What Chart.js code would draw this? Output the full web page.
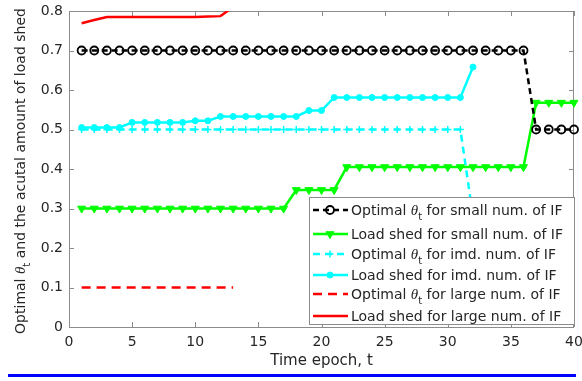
<!DOCTYPE html>
<html>
<head>
<meta charset="utf-8">
<script src="https://cdn.jsdelivr.net/npm/chart.js@4.4.0/dist/chart.umd.min.js"></script>
<style>
html, body { margin: 0; padding: 0; background: #fff; }
#wrap { position: relative; width: 582px; height: 381px; }
#blueRule { position: absolute; left: 8px; top: 374px; width: 568px; height: 3px; background: #0000ff; }
</style>
</head>
<body>
<div id="wrap">
    <canvas id="shedChart"></canvas>
    <div id="blueRule"></div>
</div>
<script>
// time epochs (x values)
const epochs = [1, 2, 3, 4, 5, 6, 7, 8, 9, 10, 11, 12, 13, 14, 15, 16, 17, 18, 19, 20,
    21, 22, 23, 24, 25, 26, 27, 28, 29, 30, 31, 32, 33, 34, 35, 36, 37, 38, 39, 40];

// small number of IF
const thetaSmall = [0.7, 0.7, 0.7, 0.7, 0.7, 0.7, 0.7, 0.7, 0.7, 0.7, 0.7, 0.7, 0.7, 0.7, 0.7, 0.7, 0.7, 0.7, 0.7, 0.7,
    0.7, 0.7, 0.7, 0.7, 0.7, 0.7, 0.7, 0.7, 0.7, 0.7, 0.7, 0.7, 0.7, 0.7, 0.7, 0.7, 0.5, 0.5, 0.5, 0.5];
const shedSmall = [0.3, 0.3, 0.3, 0.3, 0.3, 0.3, 0.3, 0.3, 0.3, 0.3, 0.3, 0.3, 0.3, 0.3, 0.3, 0.3, 0.3, 0.347, 0.347, 0.347,
    0.347, 0.405, 0.405, 0.405, 0.405, 0.405, 0.405, 0.405, 0.405, 0.405, 0.405, 0.405, 0.405, 0.405, 0.405, 0.405, 0.568, 0.568, 0.568, 0.568];

// intermediate number of IF
const thetaImd = [0.5, 0.5, 0.5, 0.5, 0.5, 0.5, 0.5, 0.5, 0.5, 0.5, 0.5, 0.5, 0.5, 0.5, 0.5, 0.5, 0.5, 0.5, 0.5, 0.5,
    0.5, 0.5, 0.5, 0.5, 0.5, 0.5, 0.5, 0.5, 0.5, 0.5, 0.5, 0.28];
const shedImd = [0.505, 0.505, 0.505, 0.505, 0.518, 0.518, 0.518, 0.518, 0.518, 0.522, 0.522, 0.533, 0.533, 0.533, 0.533, 0.533, 0.533, 0.533, 0.548, 0.548,
    0.581, 0.581, 0.581, 0.581, 0.581, 0.581, 0.581, 0.581, 0.581, 0.581, 0.581, 0.658];

// large number of IF
const thetaLarge = [0.1, 0.1, 0.1, 0.1, 0.1, 0.1, 0.1, 0.1, 0.1, 0.1, 0.1, 0.1, 0.1];
const shedLarge = [0.769, 0.777, 0.785, 0.785, 0.785, 0.785, 0.785, 0.785, 0.785, 0.785, 0.786, 0.787, 0.81];

const seriesNames = [
    "Optimal θ_t for small num. of IF",
    "Load shed for small num. of IF",
    "Optimal θ_t for imd. num. of IF",
    "Load shed for imd. num. of IF",
    "Optimal θ_t for large num. of IF",
    "Load shed for large num. of IF"
];

const xTitle = "Time epoch, t";
const yTitle = "Optimal θ_t and the acutal amount of load shed";

const FONT = '"DejaVu Sans", sans-serif';
const TEXT_COLOR = '#262626';

// split "θ_t" into italic theta + subscript t
function richParts(text) {
    const i = text.indexOf('θ_t');
    if (i < 0) return [{ s: text }];
    return [{ s: text.slice(0, i) }, { s: 'θ', it: true }, { s: 't', sub: true }, { s: text.slice(i + 3) }];
}

function partFont(p, size) {
    if (p.it) return `italic ${size + 1}px "Liberation Serif", serif`;
    if (p.sub) return `${Math.round(size * 0.72)}px ${FONT}`;
    return `${size}px ${FONT}`;
}

function richWidth(ctx, parts, size) {
    let w = 0;
    parts.forEach(p => { ctx.font = partFont(p, size); w += ctx.measureText(p.s).width; });
    return w;
}

function drawRich(ctx, parts, x, y, size) {
    parts.forEach(p => {
        ctx.font = partFont(p, size);
        ctx.fillText(p.s, x, p.sub ? y + size * 0.38 : y);
        x += ctx.measureText(p.s).width;
    });
}

function serie(vals, label, color, extra) {
    return Object.assign({
        label: label,
        data: vals.map((v, i) => ({ x: epochs[i], y: v })),
        borderColor: color,
        backgroundColor: color,
        pointBackgroundColor: color,
        pointBorderColor: color,
        borderWidth: 2.5,
        pointRadius: 0,
        tension: 0,
        clip: { left: 8, top: 0, right: 8, bottom: 8 }
    }, extra);
}

// axes box with inward ticks, like matlab
const boxPlugin = {
    id: 'axesBox',
    beforeDatasetsDraw(chart) {
        const { ctx, chartArea: a, scales: { x, y } } = chart;
        const len = 5;
        ctx.save();
        ctx.strokeStyle = '#8c8c8c';
        ctx.lineWidth = 1;
        ctx.strokeRect(a.left + 0.5, a.top + 0.5, a.right - a.left - 1, a.bottom - a.top);
        ctx.beginPath();
        x.ticks.forEach(t => {
            const px = Math.round(x.getPixelForValue(t.value)) + 0.5;
            ctx.moveTo(px, a.bottom); ctx.lineTo(px, a.bottom - len);
            ctx.moveTo(px, a.top); ctx.lineTo(px, a.top + len);
        });
        y.ticks.forEach(t => {
            const py = Math.round(y.getPixelForValue(t.value)) + 0.5;
            ctx.moveTo(a.left, py); ctx.lineTo(a.left + len, py);
            ctx.moveTo(a.right, py); ctx.lineTo(a.right - len, py);
        });
        ctx.stroke();
        ctx.restore();
    },
    afterDraw(chart) {
        const { ctx, chartArea: a } = chart;
        ctx.save();
        ctx.fillStyle = TEXT_COLOR;
        ctx.textBaseline = 'alphabetic';

        // y title, rotated
        const parts = richParts(yTitle);
        const size = 14;
        const w = richWidth(ctx, parts, size);
        ctx.translate(25, (a.top + a.bottom) / 2 + 2);
        ctx.rotate(-Math.PI / 2);
        drawRich(ctx, parts, -w / 2, 0, size);
        ctx.restore();

        // legend box inside the axes
        const box = { x: a.left + 240, y: a.top + 186, w: a.right - a.left - 239, h: 128 };
        const rows = [13, 37, 57, 78, 97, 119];
        ctx.save();
        ctx.fillStyle = '#fff';
        ctx.fillRect(box.x, box.y, box.w, box.h);
        ctx.strokeStyle = '#8c8c8c';
        ctx.lineWidth = 1;
        ctx.strokeRect(box.x + 0.5, box.y + 0.5, box.w - 1, box.h - 1);
        chart.data.datasets.forEach((ds, i) => {
            const ry = box.y + rows[i];
            ctx.save();
            ctx.strokeStyle = ds.borderColor;
            ctx.lineWidth = ds.borderWidth;
            ctx.setLineDash(ds.borderDash || []);
            ctx.beginPath();
            ctx.moveTo(box.x + 4, ry);
            ctx.lineTo(box.x + 39, ry);
            ctx.stroke();
            ctx.setLineDash([]);
            if (ds.pointRadius > 0) {
                ctx.fillStyle = ds.pointBackgroundColor;
                ctx.strokeStyle = ds.pointBorderColor;
                ctx.lineWidth = ds.pointBorderWidth;
                Chart.helpers.drawPoint(ctx, {
                    pointStyle: ds.pointStyle,
                    rotation: ds.pointRotation || 0,
                    radius: ds.pointRadius,
                    borderWidth: ds.pointBorderWidth
                }, box.x + 21, ry);
            }
            ctx.restore();
            ctx.fillStyle = TEXT_COLOR;
            drawRich(ctx, richParts(ds.label), box.x + 42, ry + 5, 14);
        });
        ctx.restore();
    }
};

const ctx = document.getElementById('shedChart').getContext('2d');
new Chart(ctx, {
    type: 'line',
    data: {
        datasets: [
            serie(thetaSmall, seriesNames[0], '#000000', {
                borderDash: [6, 4], pointStyle: 'circle', pointRadius: 4, pointBorderWidth: 1.8,
                pointBackgroundColor: 'rgba(255,255,255,0)'
            }),
            serie(shedSmall, seriesNames[1], '#00ff00', {
                pointStyle: 'triangle', pointRotation: 180, pointRadius: 4.6, pointBorderWidth: 1
            }),
            serie(thetaImd, seriesNames[2], '#00ffff', {
                borderDash: [7, 5], pointStyle: 'cross', pointRadius: 3.5, pointBorderWidth: 1.5
            }),
            serie(shedImd, seriesNames[3], '#00ffff', {
                pointStyle: 'circle', pointRadius: 3, pointBorderWidth: 1
            }),
            serie(thetaLarge, seriesNames[4], '#ff0000', { borderDash: [9, 6] }),
            serie(shedLarge, seriesNames[5], '#ff0000', {})
        ]
    },
    options: {
        responsive: true,
        maintainAspectRatio: false,
        animation: false,
        events: [],
        layout: { padding: { top: 11, right: 8, left: 0, bottom: 0 } },
        plugins: {
            legend: { display: false },
            tooltip: { enabled: false }
        },
        scales: {
            x: {
                type: 'linear',
                min: 0,
                max: 40,
                grid: { display: false, drawTicks: false },
                border: { display: false },
                ticks: { stepSize: 5, padding: 7, color: TEXT_COLOR, font: { family: FONT, size: 14 } },
                title: {
                    display: true, text: xTitle, color: TEXT_COLOR,
                    font: { family: FONT, size: 15 }, padding: { top: 0, bottom: 11 }
                },
                afterFit: s => { s.height = 54; s.paddingLeft = 0; s.paddingRight = 0; }
            },
            y: {
                min: 0,
                max: 0.8,
                grid: { display: false, drawTicks: false },
                border: { display: false },
                ticks: {
                    stepSize: 0.1, padding: 6, color: TEXT_COLOR, font: { family: FONT, size: 14 },
                    callback: v => Math.abs(v) < 1e-9 ? '0' : v.toFixed(1)
                },
                afterFit: s => { s.width = 69; s.paddingTop = 0; s.paddingBottom = 0; }
            }
        }
    },
    plugins: [boxPlugin]
});
</script>
</body>
</html>
